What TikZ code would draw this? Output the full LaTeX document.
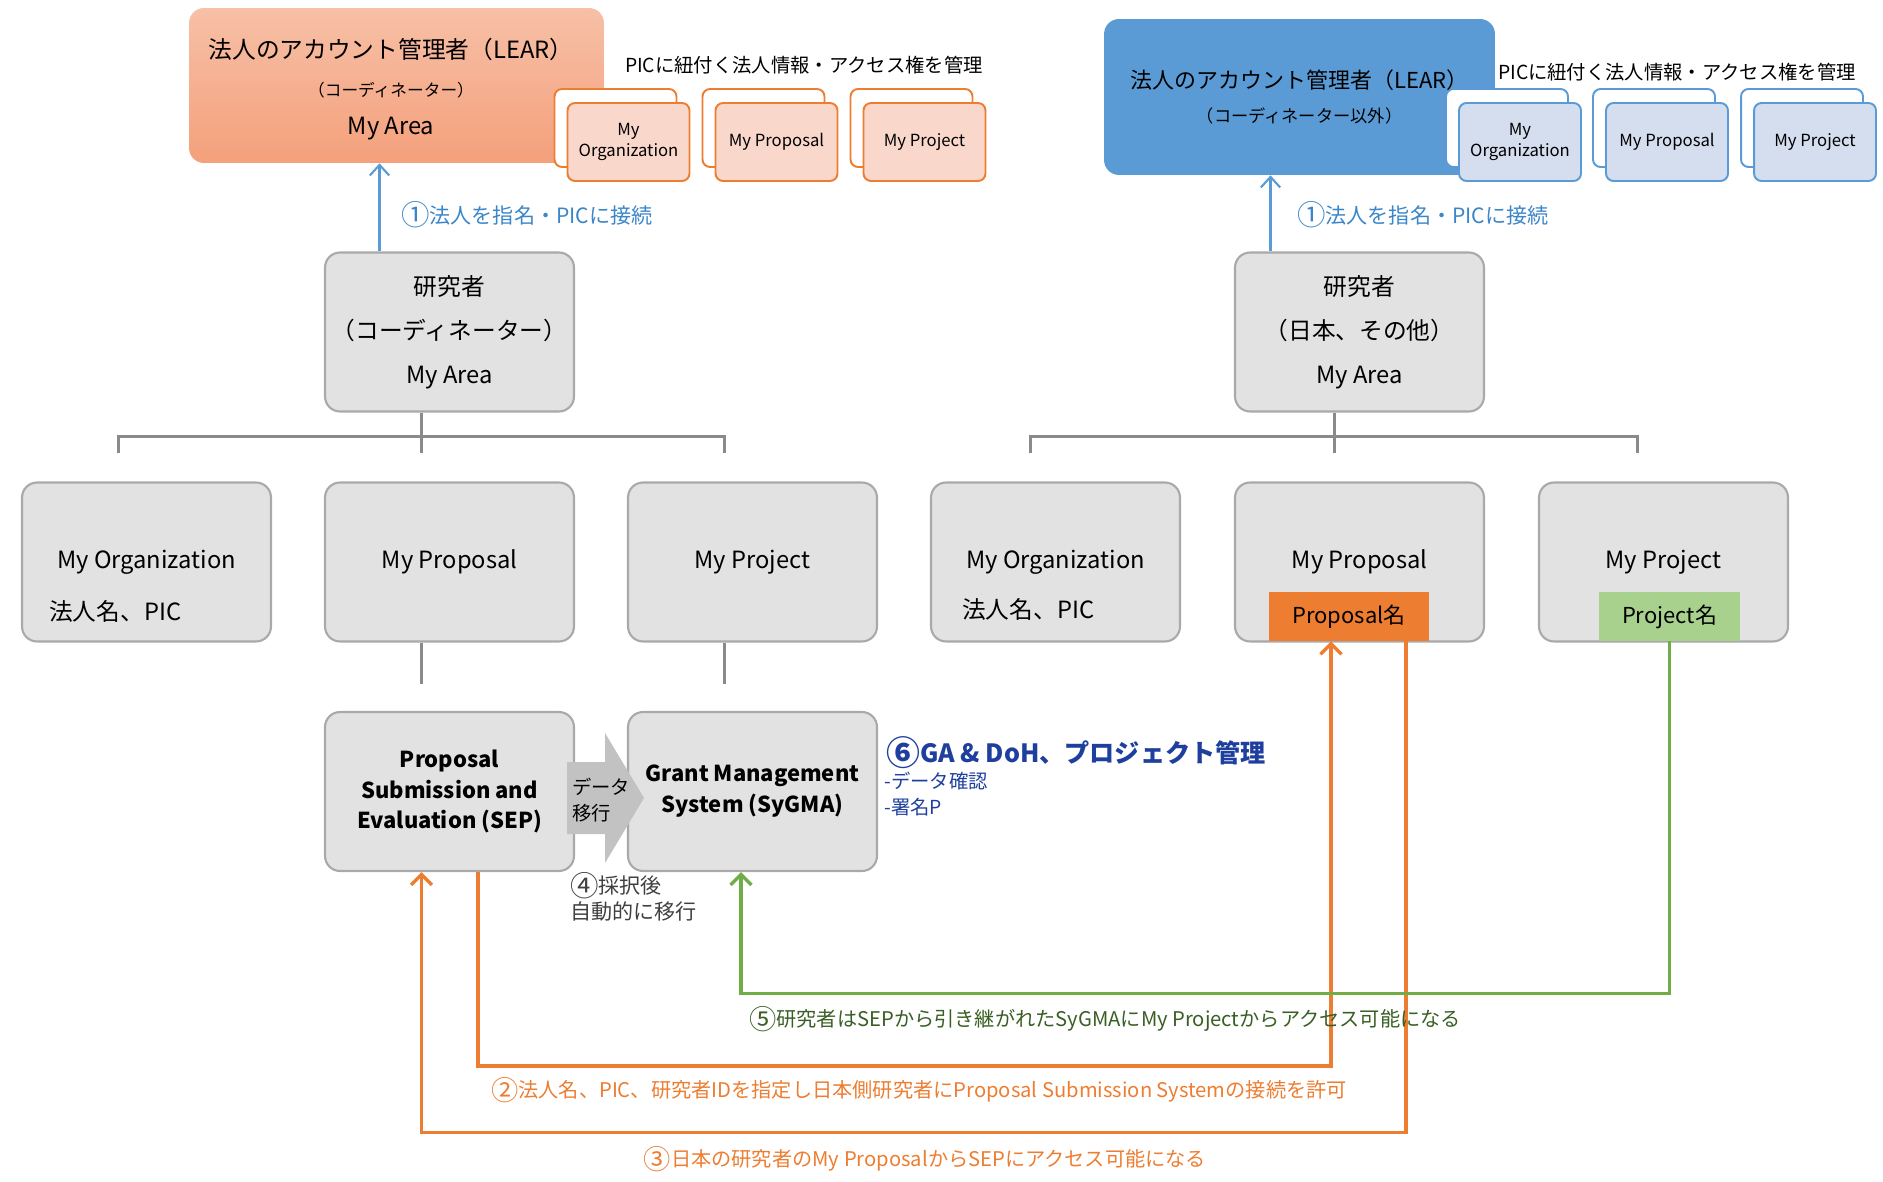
\documentclass[tikz,border=0pt]{standalone}
\usepackage{graphicx}
\usepackage{fontspec}
\setmainfont{Noto Sans CJK JP}
\usetikzlibrary{arrows.meta,positioning}

\definecolor{leartop}{HTML}{F7C0A7}
\definecolor{learbot}{HTML}{F4A07B}
\definecolor{learblue}{HTML}{5B9BD5}
\definecolor{accorange}{HTML}{ED7D31}
\definecolor{accgreen}{HTML}{70AD47}
\definecolor{palesalmon}{HTML}{F9D8CB}
\definecolor{paleblue}{HTML}{D5DEEE}
\definecolor{boxgray}{HTML}{E2E2E2}
\definecolor{edgegray}{HTML}{A9A9A9}
\definecolor{treegray}{HTML}{8A8A8A}
\definecolor{projgreen}{HTML}{A9D18E}
\definecolor{labelblue}{HTML}{3B86C9}
\definecolor{navyblue}{HTML}{1F3F9E}
\definecolor{darkgreen}{HTML}{3A5F24}
\definecolor{textgray}{HTML}{404040}

% big circled step numbers
\newcommand{\stepmark}[1]{\raisebox{-0.12em}{\scalebox{1.35}{#1}}}

\begin{document}
\begin{tikzpicture}[x=0.02cm, y=-0.02cm,
    graybox/.style={draw=edgegray, line width=1.2pt, fill=boxgray, rounded corners=0.3cm,
        minimum width=4.98cm, minimum height=3.18cm, inner sep=0pt, align=center,
        font=\fontsize{13.5}{25}\selectfont},
    pairback/.style={draw=#1, line width=1.1pt, fill=white, rounded corners=0.15cm,
        minimum width=2.44cm, minimum height=1.56cm},
    pairfront/.style={draw=#1, line width=1.1pt, rounded corners=0.15cm,
        minimum width=2.44cm, minimum height=1.56cm, inner sep=0pt, align=center,
        font=\fontsize{9.5}{12}\selectfont},
    tree/.style={draw=treegray, line width=1.7pt},
    bluearrow/.style={draw=learblue, line width=1.2pt, -{Straight Barb[length=6pt,width=11pt]}},
    flowarrow/.style={line width=1.9pt, -{Straight Barb[length=6pt,width=12pt]}},
    steplabel/.style={font=\fontsize{11.5}{14}\selectfont}]

    \useasboundingbox (0,0) rectangle (1883,1182);

    % LEAR boxes
    \node[rounded corners=0.3cm, top color=leartop, bottom color=learbot,
        minimum width=8.3cm, minimum height=3.1cm] (lear1) at (396.5,85.5) {};
    \node[align=center, font=\fontsize{13.5}{21.5}\selectfont] (lear1txt) at (391,89)
        {法人のアカウント管理者（LEAR）\\{\fontsize{9.5}{12}\selectfont （コーディネーター）}\\My Area};
    \node[rounded corners=0.3cm, fill=learblue,
        minimum width=7.82cm, minimum height=3.12cm, align=center,
        font=\fontsize{12.5}{19}\selectfont] (lear2) at (1299.5,97)
        {法人のアカウント管理者（LEAR）\\{\fontsize{9.8}{12}\selectfont （コーディネーター以外）}};

    \node[font=\fontsize{11}{13}\selectfont] (pic1) at (804,65) {PICに紐付く法人情報・アクセス権を管理};
    \node[font=\fontsize{11}{13}\selectfont] (pic2) at (1677,72) {PICに紐付く法人情報・アクセス権を管理};

    % stacked cards under the LEAR
    \node[pairback=accorange] (bk1) at (615.5,128) {};
    \node[pairfront=accorange, fill=palesalmon] (fr1) at (628.5,142) {My\\Organization};
    \node[pairback=accorange] (bk2) at (763.5,128) {};
    \node[pairfront=accorange, fill=palesalmon] (fr2) at (776.5,142) {My Proposal};
    \node[pairback=accorange] (bk3) at (911.5,128) {};
    \node[pairfront=accorange, fill=palesalmon] (fr3) at (924.5,142) {My Project};

    \node[pairback=learblue] (bk4) at (1507,128) {};
    \node[pairfront=learblue, fill=paleblue] (fr4) at (1520,142) {My\\Organization};
    \node[pairback=learblue] (bk5) at (1654,128) {};
    \node[pairfront=learblue, fill=paleblue] (fr5) at (1667,142) {My Proposal};
    \node[pairback=learblue] (bk6) at (1802,128) {};
    \node[pairfront=learblue, fill=paleblue] (fr6) at (1815,142) {My Project};

    % researchers
    \node[graybox] (res1) at (449.5,332) {研究者\\（コーディネーター）\\My Area};
    \node[graybox] (res2) at (1359.5,332) {研究者\\（日本、その他）\\My Area};

    \draw[bluearrow] ([xshift=-1.4cm]res1.north) -- ([xshift=-1.4cm]res1.north |- lear1.south);
    \draw[bluearrow] ([xshift=-1.78cm]res2.north) -- ([xshift=-1.78cm]res2.north |- lear2.south);
    \node[anchor=west, text=labelblue, font=\fontsize{12}{14}\selectfont] (link1) at (395,215) {\stepmark{①}法人を指名・PICに接続};
    \node[anchor=west, text=labelblue, font=\fontsize{12}{14}\selectfont] (link2) at (1291,215) {\stepmark{①}法人を指名・PICに接続};

    % second row
    \node[graybox] (org1) at (146.5,562) {My Organization};
    \node[graybox] (prop1) at (449.5,562) {My Proposal};
    \node[graybox] (proj1) at (752.5,562) {My Project};
    \node[graybox] (org2) at (1055.5,562) {My Organization};
    \node[graybox] (prop2) at (1359.5,562) {My Proposal};
    \node[graybox] (proj2) at (1663.5,562) {My Project};

    \node[anchor=west, font=\fontsize{13.5}{15}\selectfont] (orgid1) at (43,611) {法人名、PIC};
    \node[anchor=west, font=\fontsize{13.5}{15}\selectfont] (orgid2) at (956,609) {法人名、PIC};
    \node[fill=accorange, minimum width=3.2cm, minimum height=0.98cm, inner sep=0pt,
        font=\fontsize{12.5}{15}\selectfont] (propname) at (1349,616.5) {Proposal名};
    \node[fill=projgreen, minimum width=2.82cm, minimum height=0.98cm, inner sep=0pt,
        font=\fontsize{12.5}{15}\selectfont] (projname) at (1669.5,616.5) {Project名};

    % hierarchy lines
    \draw[tree] ([xshift=-0.56cm]res1.south) -- ++(0,24) coordinate (hub1);
    \draw[tree] ([shift={(-0.56cm,0.56cm)}]org1.north) |- (hub1) -| ([shift={(-0.56cm,0.56cm)}]proj1.north);
    \draw[tree] (hub1) -- ([shift={(-0.56cm,0.56cm)}]prop1.north);
    \draw[tree] ([xshift=-0.51cm]res2.south) -- ++(0,24) coordinate (hub2);
    \draw[tree] ([shift={(-0.51cm,0.56cm)}]org2.north) |- (hub2) -| ([shift={(-0.53cm,0.56cm)}]proj2.north);
    \draw[tree] (hub2) -- ([shift={(-0.51cm,0.56cm)}]prop2.north);

    % systems
    \node[graybox, font=\bfseries\fontsize{12.5}{17.6}\selectfont] (sep) at (449.5,791.5)
        {Proposal\\Submission and\\Evaluation (SEP)};
    \node[graybox, font=\bfseries\fontsize{12.5}{17.6}\selectfont] (sygma) at (752.5,791.5)
        {Grant Management\\System (SyGMA)};
    \draw[tree] ([xshift=-0.56cm]prop1.south) -- ([shift={(-0.56cm,0.54cm)}]sep.north);
    \draw[tree] ([xshift=-0.56cm]proj1.south) -- ([shift={(-0.56cm,0.54cm)}]sygma.north);

    \fill[black!24] (567,762) -- (605,762) -- (605,733) -- (644,798) -- (605,863)
        -- (605,834) -- (567,834) -- cycle;
    \node[align=left, font=\fontsize{11}{14.8}\selectfont] (move) at (601,800) {データ\\移行};

    \node[anchor=west, text=navyblue, font=\bfseries\fontsize{14.3}{18}\selectfont] (ga) at (880,753)
        {\stepmark{⑥}GA \& DoH、プロジェクト管理};
    \node[anchor=north west, align=left, inner sep=0pt, text=navyblue,
        font=\fontsize{11}{14.8}\selectfont] (gasub) at (884,772) {-データ確認\\-署名P};
    \node[anchor=north west, align=left, inner sep=0pt, text=textgray,
        font=\fontsize{12}{14.8}\selectfont] (auto) at (570,872) {\stepmark{④}採択後\\自動的に移行};

    % access flows
    \draw[flowarrow, accorange] ([xshift=0.57cm]sep.south) -- ++(0,194) -| ([xshift=-0.36cm]propname.south);
    \draw[flowarrow, accorange] ([xshift=1.14cm]propname.south) -- ++(0,491) -| ([xshift=-0.56cm]sep.south);
    \draw[flowarrow, accgreen] (projname.south) -- ++(0,352) -| ([xshift=-0.23cm]sygma.south);

    \node[steplabel, text=darkgreen] (step5) at (1105,1019)
        {\stepmark{⑤}研究者はSEPから引き継がれたSyGMAにMy Projectからアクセス可能になる};
    \node[steplabel, text=accorange] (step2) at (919,1090)
        {\stepmark{②}法人名、PIC、研究者IDを指定し日本側研究者にProposal Submission Systemの接続を許可};
    \node[steplabel, text=accorange] (step3) at (925,1159)
        {\stepmark{③}日本の研究者のMy ProposalからSEPにアクセス可能になる};
\end{tikzpicture}
\end{document}
